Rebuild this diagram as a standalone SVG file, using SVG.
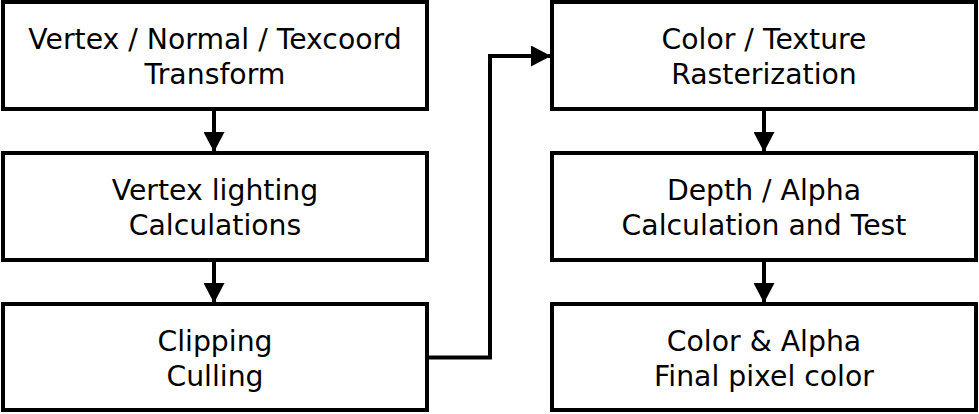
<svg xmlns="http://www.w3.org/2000/svg" width="979" height="414" viewBox="0 0 979 414">
<defs>
<style>
.box{fill:#fff;stroke:#000;stroke-width:4}
.lbl{font-family:"DejaVu Sans",sans-serif;font-size:28.3px;text-anchor:middle;fill:#000}
.con{fill:none;stroke:#000;stroke-width:4}
</style>
<marker id="ah" viewBox="0 0 20 21" refX="19" refY="10.5" markerWidth="20" markerHeight="21" markerUnits="userSpaceOnUse" orient="auto">
<path d="M0,0 L20,10.5 L0,21 Z" fill="#000"/>
</marker>
</defs>
<rect width="979" height="414" fill="#fff"/>
<g id="n1"><rect class="box" x="3" y="2" width="424" height="107"/><text class="lbl" x="215" y="49">Vertex / Normal / Texcoord</text><text class="lbl" x="215" y="83.5">Transform</text></g>
<g id="n2"><rect class="box" x="3" y="153" width="424" height="107"/><text class="lbl" x="215" y="200">Vertex lighting</text><text class="lbl" x="215" y="234.5">Calculations</text></g>
<g id="n3"><rect class="box" x="3" y="304" width="424" height="106"/><text class="lbl" x="215" y="351">Clipping</text><text class="lbl" x="215" y="385.5">Culling</text></g>
<g id="n4"><rect class="box" x="552" y="2" width="424" height="107"/><text class="lbl" x="764" y="49">Color / Texture</text><text class="lbl" x="764" y="83.5">Rasterization</text></g>
<g id="n5"><rect class="box" x="552" y="153" width="424" height="107"/><text class="lbl" x="764" y="200">Depth / Alpha</text><text class="lbl" x="764" y="234.5">Calculation and Test</text></g>
<g id="n6"><rect class="box" x="552" y="304" width="424" height="106"/><text class="lbl" x="764" y="351">Color &amp; Alpha</text><text class="lbl" x="764" y="385.5">Final pixel color</text></g>
<g id="connectors">
<path class="con" d="M214,111 V151" marker-end="url(#ah)"/>
<path class="con" d="M214,262 V302" marker-end="url(#ah)"/>
<path class="con" d="M764,111 V151" marker-end="url(#ah)"/>
<path class="con" d="M764,262 V302" marker-end="url(#ah)"/>
<path class="con" d="M429,357.5 H490 V56 H550" marker-end="url(#ah)"/>
</g>
</svg>
